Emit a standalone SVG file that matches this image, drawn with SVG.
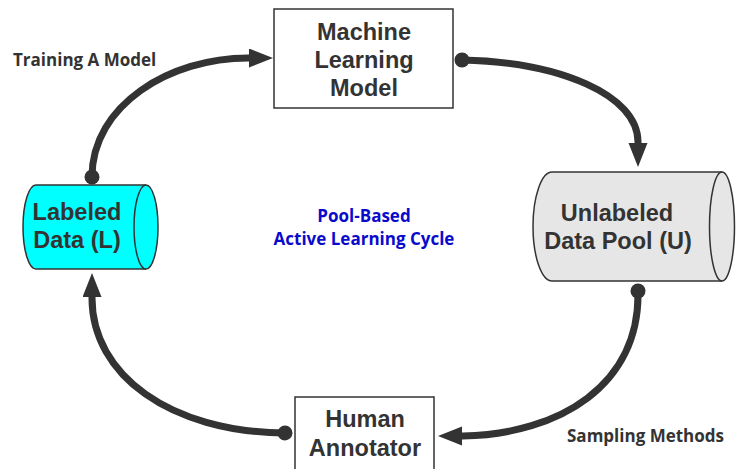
<svg xmlns="http://www.w3.org/2000/svg" width="736" height="469" viewBox="0 0 736 469">
<style>
.box{fill:#fff;stroke:#333;stroke-width:1.5}
.lab{font-family:"Liberation Sans",Arial,sans-serif;font-weight:bold;font-size:23.5px;fill:#333;text-anchor:middle}
.edge{fill:none;stroke:#333;stroke-width:7}
.note{font-family:"Open Sans","Noto Sans",sans-serif;font-weight:bold;font-size:17px;fill:#333}
.title{font-family:"Open Sans","Noto Sans",sans-serif;font-weight:bold;font-size:17px;fill:#0a0acc;text-anchor:middle}
</style>
<defs>
<marker id="arr" markerUnits="userSpaceOnUse" markerWidth="26" markerHeight="20" refX="1" refY="9.5" orient="auto">
<path d="M0,0 L24,9.5 L0,19 Z" fill="#333"/>
</marker>
<marker id="dot" markerUnits="userSpaceOnUse" markerWidth="18" markerHeight="18" refX="9" refY="9" orient="auto">
<circle cx="9" cy="9" r="7.5" fill="#333"/>
</marker>
</defs>
<g id="connectors">
<path class="edge" d="M92,177 C92,105 170,58 248,58 L250,58" marker-start="url(#dot)" marker-end="url(#arr)"/>
<path class="edge" d="M462,60 C560,62 638,95 638,142 L638,144" marker-start="url(#dot)" marker-end="url(#arr)"/>
<path class="edge" d="M638,291 C640,385 560,434 463,436 L461,436" marker-start="url(#dot)" marker-end="url(#arr)"/>
<path class="edge" d="M285,433 C170,432 92,375 92,298 L92,296" marker-start="url(#dot)" marker-end="url(#arr)"/>
</g>
<g id="ml-model">
<rect class="box" x="274" y="9" width="179" height="99"/>
<text class="lab" x="364" y="40">Machine<tspan x="364" dy="28">Learning</tspan><tspan x="364" dy="28">Model</tspan></text>
</g>
<g id="labeled-data">
<path d="M36,185 L146,185 A12,42 0 0 1 146,269 L36,269 A13,42 0 0 1 36,185 Z" fill="#00ffff" stroke="#333" stroke-width="1.5"/>
<path d="M146,185 A12,42 0 0 0 146,269" fill="none" stroke="#333" stroke-width="1.5"/>
<text class="lab" x="77" y="220">Labeled<tspan x="77" dy="28">Data (L)</tspan></text>
</g>
<g id="unlabeled-pool">
<path d="M552,172 L722,172 A12.5,54.5 0 0 1 722,281 L552,281 A19,54.5 0 0 1 552,172 Z" fill="#e6e6e6" stroke="#333" stroke-width="1.5"/>
<path d="M722,172 A12.5,54.5 0 0 0 722,281" fill="none" stroke="#333" stroke-width="1.5"/>
<text class="lab" x="617" y="221">Unlabeled<tspan x="618" dy="28">Data Pool (U)</tspan></text>
</g>
<g id="human-annotator">
<rect class="box" x="295" y="397" width="139" height="85"/>
<text class="lab" x="365" y="427">Human<tspan x="365" dy="29">Annotator</tspan></text>
</g>
<text class="note" x="13" y="66">Training A Model</text>
<text class="note" x="567" y="442">Sampling Methods</text>
<text class="title" x="364" y="222">Pool-Based<tspan x="364" dy="23">Active Learning Cycle</tspan></text>
</svg>
